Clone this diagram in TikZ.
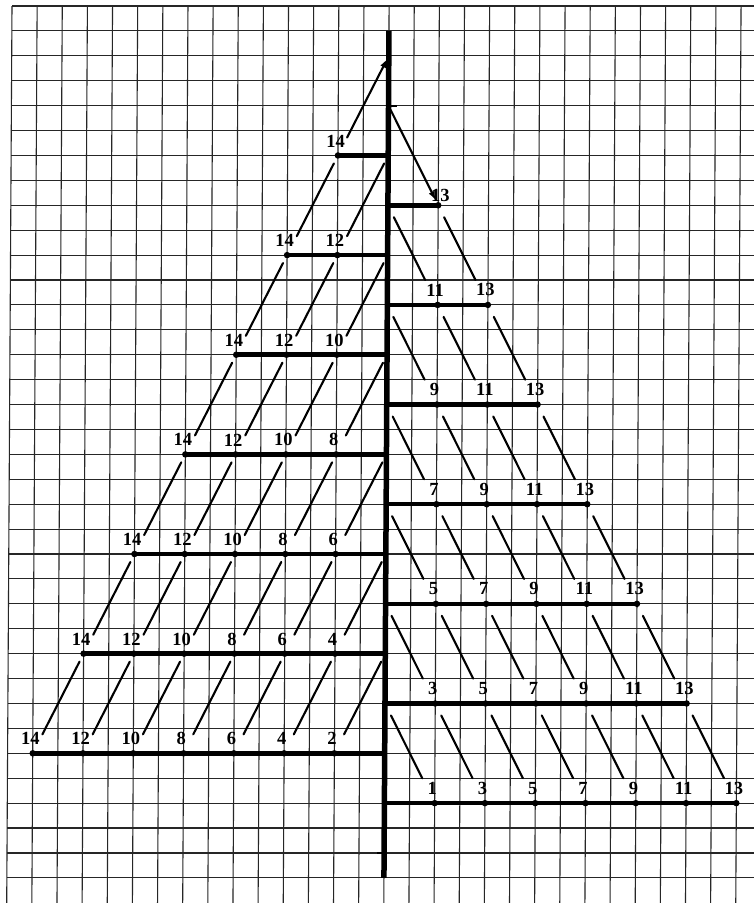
\documentclass[tikz,border=0pt]{standalone}
\usepackage{fontspec}
\setmainfont{Liberation Serif}
\usetikzlibrary{calc,arrows.meta}
\tikzset{
  gridline/.style={draw=black!85, line width=1.1pt},
  axisline/.style={draw=black, line width=5.5pt},
  barline/.style={draw=black, line width=4.5pt},
  diag/.style={draw=black, line width=2.1pt, line cap=round},
  dotmark/.style={circle, fill=black, inner sep=0pt, minimum size=6.5pt},
  numlab/.style={font=\fontsize{18.5}{18.5}\selectfont\bfseries, inner sep=0pt},
  tipped/.style={-{Latex[length=9pt,width=6.5pt]}},
}
\begin{document}
\begin{tikzpicture}[x=25.14pt,y=-24.91pt]
\useasboundingbox (0pt,0pt) rectangle (754pt,-903pt);
\fill[white] (0pt,0pt) rectangle (754pt,-903pt);
\clip (0pt,0pt) rectangle (754pt,-903pt);
\begin{scope}[shift={(12pt,-6pt)},xslant=0.0059]
% grid paper
\foreach \kc in {0,...,29} \draw[gridline] (\kc,0) -- (\kc,36.3);
\foreach \rw in {0,...,35} \draw[gridline] (0,\rw) -- (29.8,\rw);
% axis
\coordinate (axtop) at (15,1);
\coordinate (axbot) at (15,35);
\foreach \rw in {2,4,...,34} \coordinate (A\rw) at (15,\rw);
\draw[axisline] (axtop) -- (axbot);
\draw[line width=2.5pt] (A34) -- ++(-7pt,0);
\draw[line width=2pt] (A4) -- ++(8pt,0);
% left side (even numbers)
\foreach \ii in {1,...,7}{
  \pgfmathtruncatemacro\rw{2+4*\ii}
  \pgfmathtruncatemacro\ks{15-2*\ii}
  \coordinate (L\ii) at (\ks,\rw);
  \draw[barline] (L\ii) -- (A\rw);
  \foreach \mm in {1,...,\ii}{
    \pgfmathtruncatemacro\kc{\ks+2*(\mm-1)}
    \pgfmathtruncatemacro\lbl{29-\kc-2*\ii}
    \pgfmathtruncatemacro\kn{\kc+2}
    \pgfmathtruncatemacro\rn{\rw-4}
    \coordinate (P\kc-\rw) at (\kc,\rw);
    \coordinate (Q\kn-\rn) at (\kn,\rn);
    \node[dotmark] (D\kc-\rw) at (P\kc-\rw) {};
    \node[numlab] (T\kc-\rw) at ([xshift=-2.5pt,yshift=14.5pt]P\kc-\rw) {\lbl};
    \ifnum\ii>1
      \draw[diag] ($(P\kc-\rw)!0.19!(Q\kn-\rn)$) -- ($(P\kc-\rw)!0.92!(Q\kn-\rn)$);
    \fi
  }
}
\draw[diag,tipped] ($(P13-6)!0.18!(A2)$) -- ($(P13-6)!0.97!(A2)$);
% right side (odd numbers)
\foreach \ii in {1,...,7}{
  \pgfmathtruncatemacro\rw{4+4*\ii}
  \pgfmathtruncatemacro\ke{15+2*\ii}
  \coordinate (R\ii) at (\ke,\rw);
  \draw[barline] (A\rw) -- (R\ii);
  \foreach \mm in {1,...,\ii}{
    \pgfmathtruncatemacro\kc{15+2*\mm}
    \pgfmathtruncatemacro\lbl{\kc-2-2*\ii}
    \coordinate (P\kc-\rw) at (\kc,\rw);
    \node[dotmark] (D\kc-\rw) at (P\kc-\rw) {};
    \ifnum\ii>1
      \node[numlab] (T\kc-\rw) at ([xshift=-2.5pt,yshift=15pt]P\kc-\rw) {\lbl};
    \fi
  }
  \ifnum\ii<7
    \foreach \mm in {0,...,\ii}{
      \pgfmathtruncatemacro\kc{15+2*\mm}
      \pgfmathtruncatemacro\kn{\kc+2}
      \pgfmathtruncatemacro\rn{\rw+4}
      \coordinate (S\kc-\rw) at (\kc,\rw);
      \coordinate (E\kn-\rn) at (\kn,\rn);
      \draw[diag] ($(S\kc-\rw)!0.12!(E\kn-\rn)$) -- ($(S\kc-\rw)!0.75!(E\kn-\rn)$);
    }
  \fi
}
\node[numlab] (T17-8) at ([xshift=2pt,yshift=9.5pt]P17-8) {13};
\draw[diag,tipped] (A4) -- ($(A4)!0.95!(P17-8)$);
\end{scope}
\end{tikzpicture}
\end{document}
